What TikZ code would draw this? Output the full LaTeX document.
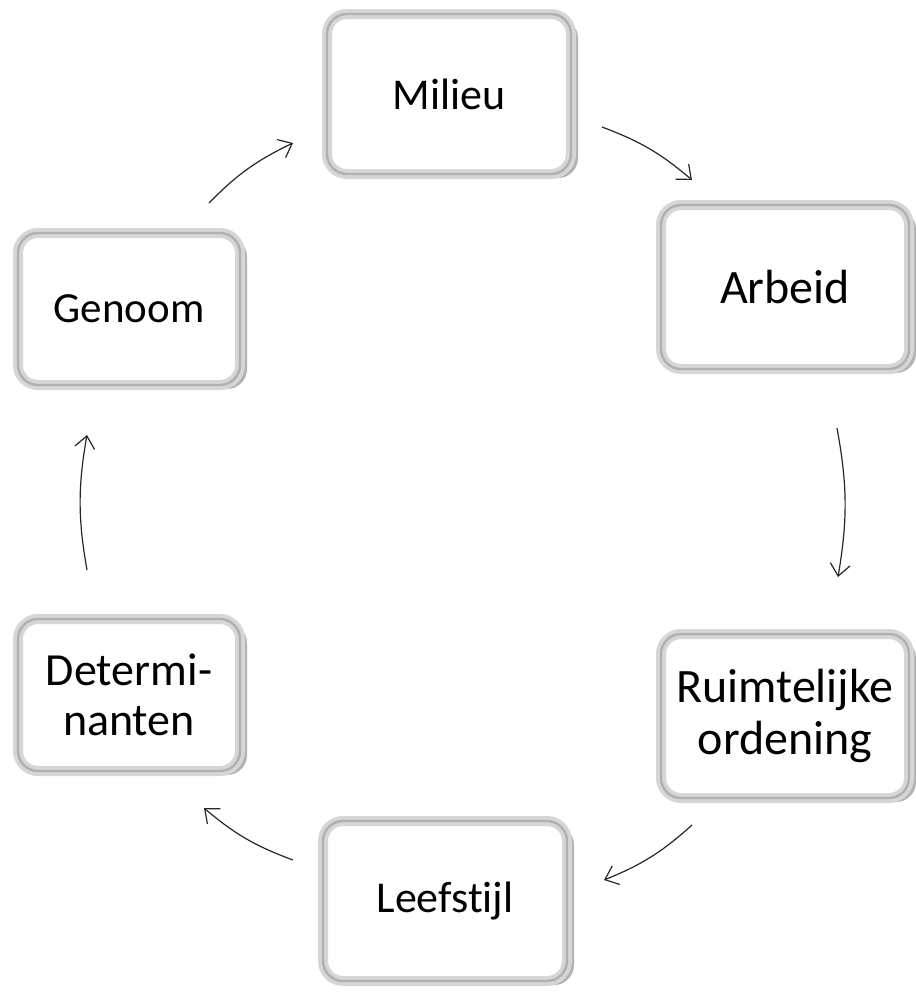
\documentclass[tikz,border=0pt]{standalone}
\usepackage{fontspec}
\setmainfont{Carlito}[Ligatures=NoCommon]
\usetikzlibrary{positioning,shadows,arrows.meta}

\begin{document}
\begin{tikzpicture}[x=0.5pt,y=-0.5pt,on grid,
  blok/.style={rectangle,rounded corners=10pt,fill=white,draw=gray!32,line width=5pt,
    minimum width=111pt,minimum height=76pt,align=center,
    font=\fontsize{21}{24}\selectfont,
    drop shadow={shadow xshift=3.5pt,shadow yshift=-2pt,fill=gray!60,opacity=1},
    postaction={draw=gray!62,line width=1.2pt}},
  breed/.style={minimum width=122pt,minimum height=80pt,font=\fontsize{22}{25}\selectfont},
  groot/.style={minimum width=124pt,minimum height=82pt,font=\fontsize{24}{26}\selectfont},
  pijl/.style={-{Straight Barb[length=6pt,width=10pt]},draw=gray!30!black,line width=0.6pt,bend left=10}]

  \useasboundingbox (0,0) rectangle (916,993);

  \node[blok,breed] (milieu) at (449,94) {Milieu};
  \node[blok,groot] (arbeid) [below right=96.5pt and 168pt of milieu] {Arbeid};
  \node[blok,groot] (ruimte) [below=214.5pt of arbeid] {Ruimtelijke\\ordening};
  \node[blok,breed] (leefstijl) [below left=92.5pt and 170pt of ruimte] {Leefstijl};
  \node[blok,font=\fontsize{23}{25}\selectfont] (determinanten) [above left=103pt and 158pt of leefstijl] {Determi-\\nanten};
  \node[blok,font=\fontsize{21.5}{24}\selectfont] (genoom) [above=193pt of determinanten] {Genoom};

  % de cirkel van pijlen
  \draw[pijl] ([shift={(80,-106)}]genoom.center) to ([shift={(-156,49)}]milieu.center);
  \draw[pijl] ([shift={(153,33)}]milieu.center) to ([shift={(-93,-107)}]arbeid.center);
  \draw[pijl] ([shift={(52,141)}]arbeid.center) to ([shift={(53,-139)}]ruimte.center);
  \draw[pijl] ([shift={(-93,109)}]ruimte.center) to ([shift={(159,-21)}]leefstijl.center);
  \draw[pijl] ([shift={(-152,-41)}]leefstijl.center) to ([shift={(75,113)}]determinanten.center);
  \draw[pijl] ([shift={(-42,-125)}]determinanten.center) to ([shift={(-42,126)}]genoom.center);

\end{tikzpicture}
\end{document}
